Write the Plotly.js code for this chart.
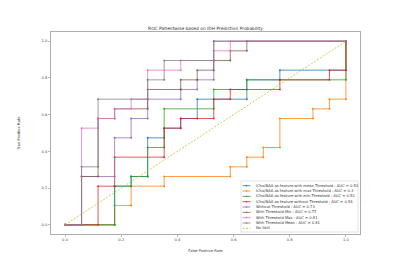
<!DOCTYPE html>
<html><head><meta charset="utf-8">
<script src="https://cdn.plot.ly/plotly-3.0.1.min.js"></script>
<style>html,body{margin:0;padding:0;background:#fff}#chart{width:400px;height:267px}</style>
</head><body><div id="chart"></div>
<script>
const seriesNames = [
  "lCho/NAA as feature with mean Threshold : AUC = 0.53",
  "lCho/NAA as feature with max Threshold : AUC = 0.3",
  "lCho/NAA as feature with min Threshold : AUC = 0.53",
  "lCho/NAA as feature without Threshold : AUC = 0.54",
  "Without Threshold : AUC = 0.73",
  "With Threshold Min : AUC = 0.77",
  "With Threshold Max : AUC = 0.81",
  "With Threshold Mean : AUC = 0.81",
  "No Skill"
];
const seriesColors = ["#1f77b4","#ff7f0e","#2ca02c","#d62728","#9467bd","#8c564b","#e377c2","#7f7f7f","#bcbd22"];

const meanFpr = [0,0.1765,0.1765,0.2353,0.2353,0.2941,0.2941,0.3529,0.3529,0.4118,0.4118,0.4706,0.4706,0.6471,0.6471,0.7647,0.7647,1,1];
const meanTpr = [0,0,0.2105,0.2105,0.2632,0.2632,0.4737,0.4737,0.5263,0.5263,0.5789,0.5789,0.6842,0.6842,0.7895,0.7895,0.8421,0.8421,1];

const maxFpr = [0,0.1765,0.1765,0.2353,0.2353,0.3529,0.3529,0.5882,0.5882,0.6471,0.6471,0.7059,0.7059,0.7647,0.7647,0.8824,0.8824,0.9412,0.9412,1,1];
const maxTpr = [0,0,0.1053,0.1053,0.2105,0.2105,0.2632,0.2632,0.3158,0.3158,0.3684,0.3684,0.4211,0.4211,0.5789,0.5789,0.6316,0.6316,0.6842,0.6842,1];

const minFpr = [0,0.1765,0.1765,0.2353,0.2353,0.2941,0.2941,0.3529,0.3529,0.5294,0.5294,0.6471,0.6471,1,1];
const minTpr = [0,0,0.2105,0.2105,0.2632,0.2632,0.4211,0.4211,0.6316,0.6316,0.7368,0.7368,0.7895,0.7895,1];

const noThrFpr = [0,0.1176,0.1176,0.1765,0.1765,0.3529,0.3529,0.4118,0.4118,0.5294,0.5294,0.5882,0.5882,0.7647,0.7647,0.9412,0.9412,1,1];
const noThrTpr = [0,0,0.2105,0.2105,0.3684,0.3684,0.5263,0.5263,0.5789,0.5789,0.6842,0.6842,0.7368,0.7368,0.7895,0.7895,0.8421,0.8421,1];

const withoutFpr = [0,0.0588,0.0588,0.1765,0.1765,0.2353,0.2353,0.2941,0.2941,0.4118,0.4118,0.4706,0.4706,0.5294,0.5294,1];
const withoutTpr = [0,0,0.2632,0.2632,0.4737,0.4737,0.5789,0.5789,0.6842,0.6842,0.7368,0.7368,0.7895,0.7895,1,1];

const thrMinFpr = [0,0.0588,0.0588,0.1176,0.1176,0.1765,0.1765,0.2941,0.2941,0.4118,0.4118,0.4706,0.4706,0.5294,0.5294,0.5882,0.5882,0.6471,0.6471,1];
const thrMinTpr = [0,0,0.2632,0.2632,0.5789,0.5789,0.6316,0.6316,0.7368,0.7368,0.7895,0.7895,0.8421,0.8421,0.8947,0.8947,0.9474,0.9474,1,1];

const thrMaxFpr = [0,0.0588,0.0588,0.1176,0.1176,0.1765,0.1765,0.2353,0.2353,0.2941,0.2941,0.4118,0.4118,0.5294,0.5294,0.5882,0.5882,1];
const thrMaxTpr = [0,0,0.5263,0.5263,0.5789,0.5789,0.6316,0.6316,0.6842,0.6842,0.8421,0.8421,0.8947,0.8947,0.9474,0.9474,1,1];

const thrMeanFpr = [0,0.0588,0.0588,0.1176,0.1176,0.2941,0.2941,0.3529,0.3529,0.5294,0.5294,1];
const thrMeanTpr = [0,0,0.3158,0.3158,0.6842,0.6842,0.7895,0.7895,0.8947,0.8947,1,1];

const noSkillFpr = [0,1];
const noSkillTpr = [0,1];

const tickVals = [0,0.2,0.4,0.6,0.8,1.0];
const tickText = ["0.0","0.2","0.4","0.6","0.8","1.0"];

const xs = [meanFpr,maxFpr,minFpr,noThrFpr,withoutFpr,thrMinFpr,thrMaxFpr,thrMeanFpr,noSkillFpr];
const ys = [meanTpr,maxTpr,minTpr,noThrTpr,withoutTpr,thrMinTpr,thrMaxTpr,thrMeanTpr,noSkillTpr];

const FONT = "DejaVu Sans, sans-serif";
const traces = xs.map((x,i)=>{
  const ns = i===8;
  return {
    x:x, y:ys[i], name:seriesNames[i], type:"scatter",
    mode: ns ? "lines" : "lines+markers",
    line:{color:seriesColors[i], width:0.8, dash: ns ? "2px,1.5px" : "solid"},
    marker:{color:seriesColors[i], size:2},
    opacity:0.95,
    showlegend:false, hoverinfo:"skip"
  };
});

const L = 51, R = 360, T = 32, B = 234;
const pw = R-L, ph = B-T;
const px = v => (v-L)/pw;
const py = v => (B-v)/ph;
const shapes = [{
  type:"rect", xref:"paper", yref:"paper",
  x0:px(241), x1:px(358), y0:py(232), y1:py(181),
  line:{color:"#d0d0d0", width:0.6}, fillcolor:"rgba(255,255,255,0.8)", layer:"above"
}];
const annotations = [];
seriesNames.forEach((n,i)=>{
  const yy = py(185.7 + 5.33*i);
  const ns = i===8;
  shapes.push({type:"line", xref:"paper", yref:"paper", x0:px(242.5), x1:px(250.5), y0:yy, y1:yy,
    line:{color:seriesColors[i], width:0.8, dash: ns ? "2px,1.5px" : "solid"}, layer:"above"});
  if(!ns){
    shapes.push({type:"circle", xref:"paper", yref:"paper", x0:px(245.8), x1:px(247.2), y0:yy-0.7/ph, y1:yy+0.7/ph,
      line:{width:0}, fillcolor:seriesColors[i], layer:"above"});
  }
  annotations.push({xref:"paper", yref:"paper", x:px(253.5), y:yy, xanchor:"left", yanchor:"middle",
    text:n, showarrow:false, font:{family:FONT, size:3.7, color:"#333"}});
});

const layout = {
  width:400, height:267,
  margin:{l:L, r:400-R, t:T, b:267-B, pad:0},
  paper_bgcolor:"#fff", plot_bgcolor:"#fff",
  title:{text:"ROC Patientwise based on IDH Prediction Probability", font:{family:FONT, size:4.4, color:"#333"},
    x:0.5, xref:"paper", xanchor:"center", y:1, yref:"paper", yanchor:"bottom", pad:{b:2.5}},
  xaxis:{range:[-0.05,1.05], tickvals:tickVals, ticktext:tickText, showgrid:false, zeroline:false,
    showline:true, mirror:true, linecolor:"#999", linewidth:0.8, ticks:"outside", ticklen:2, tickwidth:0.6, tickcolor:"#888",
    tickfont:{family:FONT, size:3.7, color:"#444"}, automargin:false,
    title:{text:"False Positive Rate", font:{family:FONT, size:3.7, color:"#333"}, standoff:8}},
  yaxis:{range:[-0.05,1.05], tickvals:tickVals, ticktext:tickText, showgrid:false, zeroline:false,
    showline:true, mirror:true, linecolor:"#999", linewidth:0.8, ticks:"outside", ticklen:2, tickwidth:0.6, tickcolor:"#888",
    tickfont:{family:FONT, size:3.7, color:"#444"}, automargin:false,
    title:{text:"True Positive Rate", font:{family:FONT, size:3.7, color:"#333"}, standoff:21}},
  shapes:shapes, annotations:annotations, showlegend:false
};
Plotly.newPlot("chart", traces, layout, {staticPlot:true, displayModeBar:false});
</script></body></html>
